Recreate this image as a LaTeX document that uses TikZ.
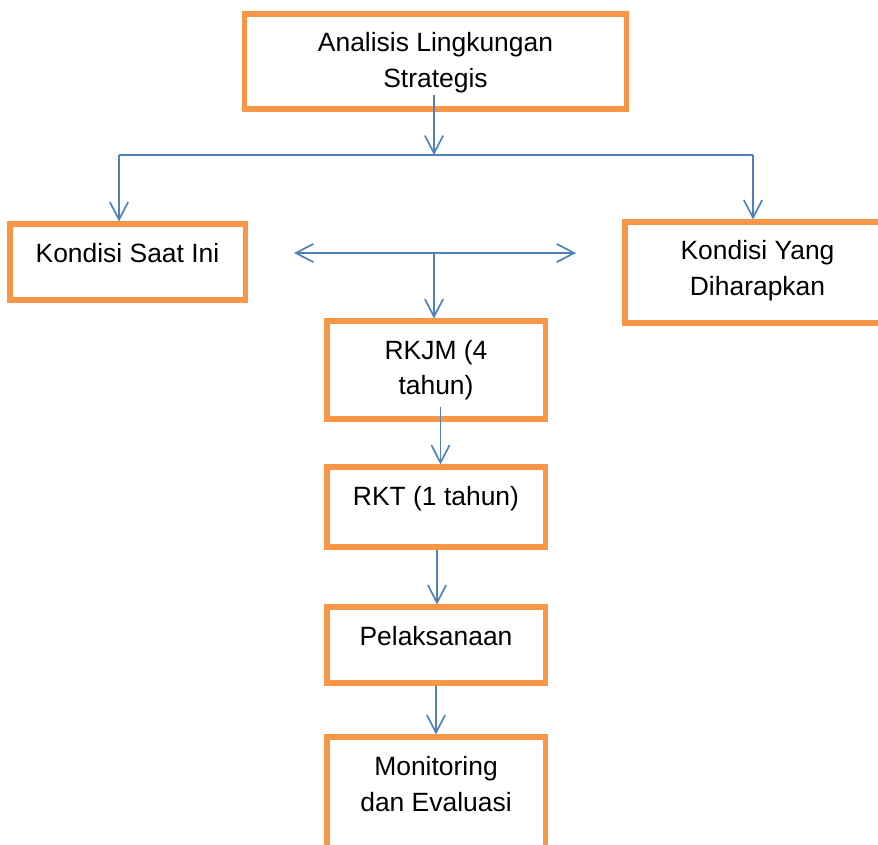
\documentclass[tikz,border=0pt]{standalone}
\usepackage{fontspec}
\setmainfont{Liberation Sans}
\usetikzlibrary{arrows.meta,calc}
\definecolor{boxorange}{RGB}{247,150,70}
\definecolor{lineblue}{RGB}{79,129,189}
\begin{document}
\begin{tikzpicture}[x=0.025cm, y=-0.025cm, >={Straight Barb[length=12.5pt,width=13pt]},
	kotak/.style={draw=boxorange, line width=3.6pt, rectangle},
	isi/.style={anchor=north, inner sep=0pt, yshift=-15pt, align=center, font=\fontsize{18.8}{25.6}\selectfont},
	panah/.style={draw=lineblue, line width=1.2pt}]
	\useasboundingbox (0,0) rectangle (878,844);
	\clip (0,0) rectangle (878,844);
	% kotak
	\node[kotak, minimum width=9.525cm, minimum height=2.375cm, label={[isi]north:Analisis Lingkungan\\Strategis}] (strat) at (435.5,61.5) {};
	\node[kotak, minimum width=5.875cm, minimum height=1.9cm, label={[isi]north:Kondisi Saat Ini}] (kini) at (127.5,262) {};
	\node[kotak, minimum width=6.625cm, minimum height=2.525cm, label={[isi]north:Kondisi Yang\\Diharapkan}] (harap) at (757.5,272.5) {};
	\node[kotak, minimum width=5.45cm, minimum height=2.45cm, label={[isi]north:RKJM (4\\tahun)}] (rkjm) at (436,370) {};
	\node[kotak, minimum width=5.45cm, minimum height=2.0cm, label={[isi]north:RKT (1 tahun)}] (rkt) at (436,507) {};
	\node[kotak, minimum width=5.45cm, minimum height=1.9cm, label={[isi]north:Pelaksanaan}] (laks) at (436,645) {};
	\node[kotak, minimum width=5.45cm, minimum height=2.825cm, label={[isi]north:Monitoring\\dan Evaluasi}] (monev) at (436,793.5) {};
	% garis
	\coordinate (barL) at (119,155);
	\coordinate (barR) at (753,155);
	\coordinate (dl) at (294,253);
	\coordinate (dr) at (576,253);
	\draw[panah,->] ($(strat.south)+(-1.5,-17)$) -- ($(strat.south |- barL)+(-1.5,0)$);
	\draw[panah] (barL) -- (barR);
	\draw[panah,->] (barL) -- (barL |- kini.north);
	\draw[panah,->] (barR) -- (barR |- harap.north);
	\draw[panah,<->] (dl) -- (dr);
	\draw[panah,->] ($(rkjm.north |- dl)+(-2,0)$) -- ($(rkjm.north)+(-2,0)$);
	\draw[panah,->] ($(rkjm.south)+(4.5,-15)$) -- ($(rkt.north)+(4.5,0)$);
	\draw[panah,->] ($(rkt.south)+(1,0)$) -- ($(laks.north)+(1,0)$);
	\draw[panah,->] (laks.south) -- (monev.north);
\end{tikzpicture}
\end{document}
